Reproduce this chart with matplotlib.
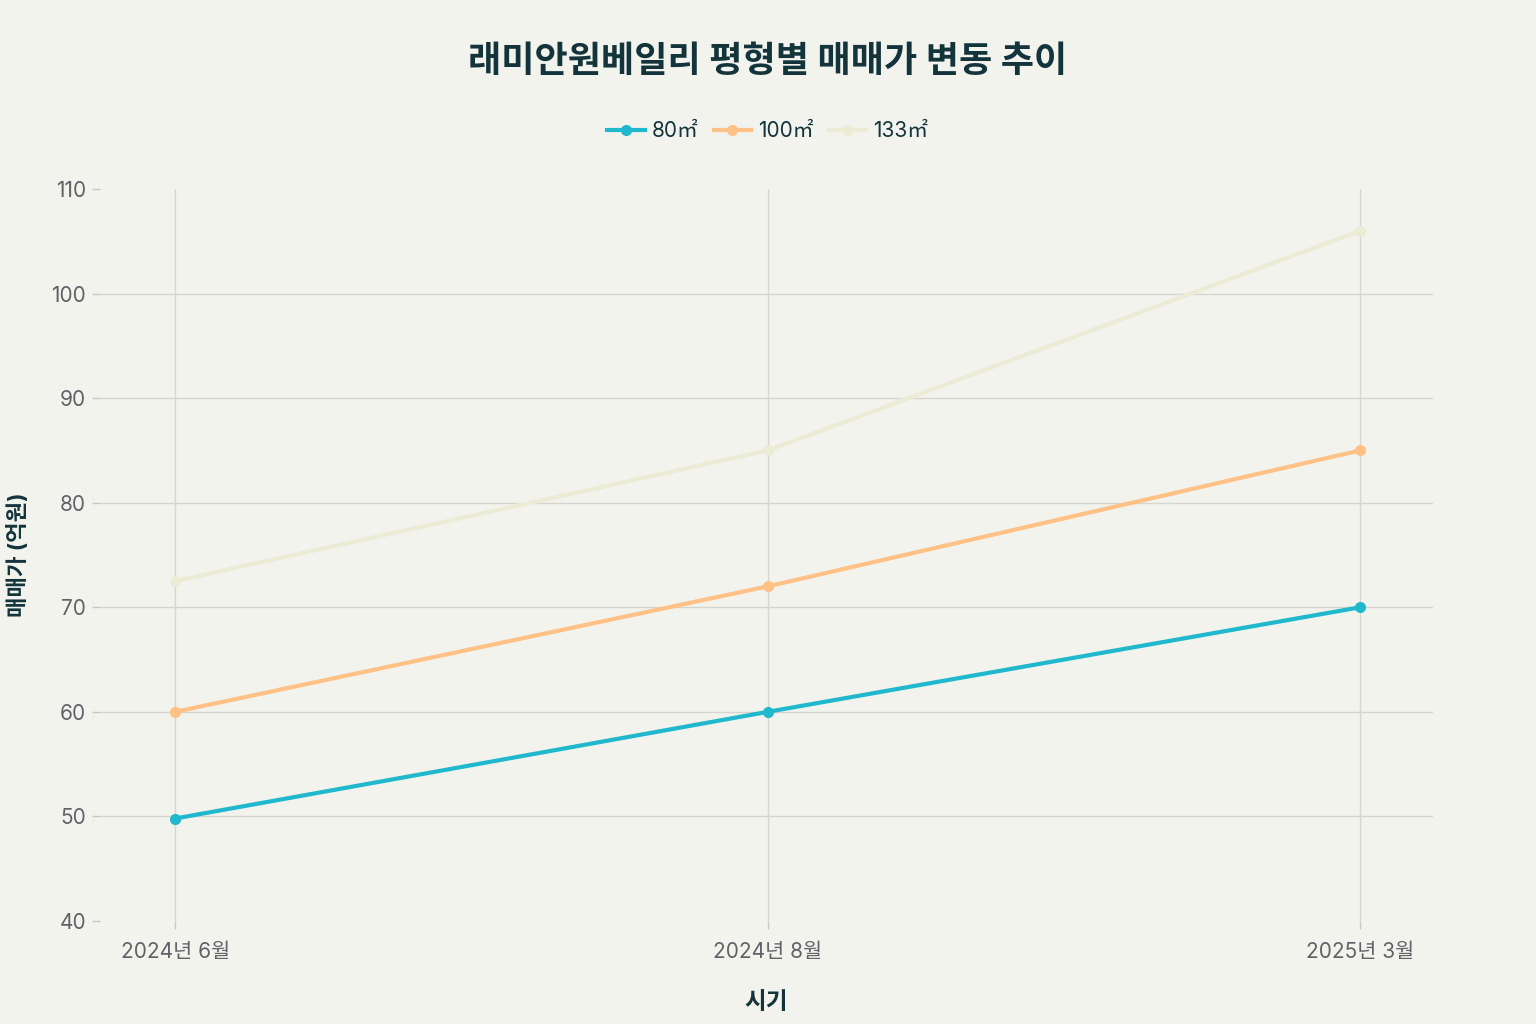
import matplotlib
matplotlib.use("Agg")
from matplotlib import pyplot as plt

plt.rcParams['font.family'] = ['Inter', 'Noto Sans CJK KR', 'DejaVu Sans']

periods = ["2024년 6월", "2024년 8월", "2025년 3월"]
series_names = ["80㎡", "100㎡", "133㎡"]
price_80 = [49.8, 60, 70]
price_100 = [60, 72, 85]
price_133 = [72.5, 85, 106]
colors = ["#1FB8CD", "#FFC185", "#ECEBD5"]

bg = "#F3F3EE"
fig = plt.figure(figsize=(15.36, 10.24), dpi=100, facecolor=bg)
ax = fig.add_axes([0.0651, 0.1006, 0.8678, 0.7148], facecolor=bg)

x = list(range(len(periods)))
for name, vals, c in zip(series_names, [price_80, price_100, price_133], colors):
    ax.plot(x, vals, color=c, linewidth=3, marker="o", markersize=7, label=name, zorder=3)

ax.set_xlim(-0.127, 2.123)
ax.set_ylim(40, 110)
ax.set_xticks(x)
ax.set_xticklabels(periods)
ax.set_yticks(range(40, 111, 10))
ax.grid(True, color="#D6D6D0", linewidth=1)
# no gridline on the outer ticks, only the small tick marks
ygrid = ax.yaxis.get_gridlines()
ygrid[0].set_visible(False)
ygrid[-1].set_visible(False)
for s in ax.spines.values():
    s.set_visible(False)
ax.tick_params(axis="both", colors="#C8C8C2", labelcolor="#5F6368", labelsize=15, length=6, width=1)
ax.tick_params(axis="y", pad=4)
ax.tick_params(axis="x", pad=9)

ax.set_xlabel("시기", fontsize=17, color="#13343B", fontweight="bold", labelpad=22)
ax.set_ylabel("매매가 (억원)", fontsize=16, color="#13343B", fontweight="bold", labelpad=16)

fig.text(0.5, 0.939, "래미안원베일리 평형별 매매가 변동 추이", ha="center", va="center",
         fontsize=26, fontweight="bold", color="#13343B")

fig.legend(loc="center", bbox_to_anchor=(0.5, 0.872), ncol=3, frameon=False,
           fontsize=15, handlelength=1.8, handletextpad=0.35, columnspacing=0.7,
           labelcolor="#13343B")

fig.savefig("out.png", dpi=100, facecolor=bg)
